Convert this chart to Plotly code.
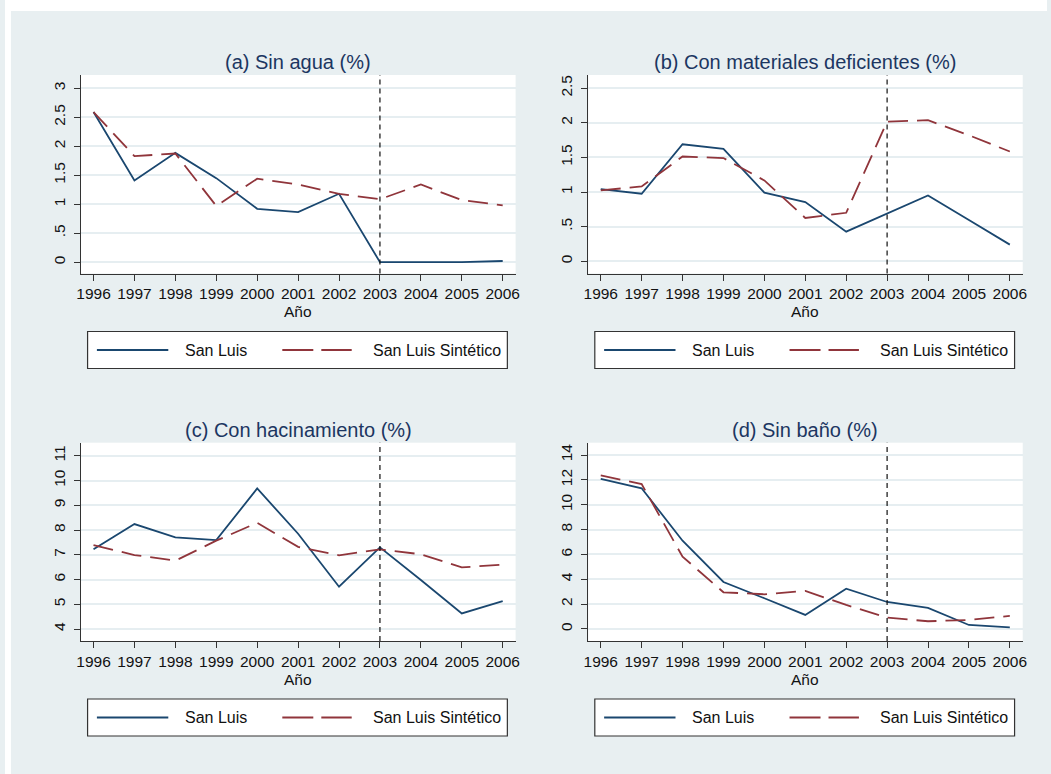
import plotly.graph_objects as go

years = list(range(1996, 2007))

titles = ["(a) Sin agua (%)", "(b) Con materiales deficientes (%)",
          "(c) Con hacinamiento (%)", "(d) Sin baño (%)"]

sanluis_agua = [2.59, 1.41, 1.886, 1.45, 0.92, 0.865, 1.18, 0.0, 0.0, 0.0, 0.02]
sintetico_agua = [2.59, 1.83, 1.875, 0.97, 1.44, 1.34, 1.18, 1.085, 1.34, 1.07, 0.98]

sanluis_mat = [1.043, 0.975, 1.69, 1.624, 0.99, 0.855, 0.428, 0.687, 0.95, 0.597, 0.24]
sintetico_mat = [1.023, 1.08, 1.513, 1.49, 1.167, 0.625, 0.70, 2.017, 2.037, 1.82, 1.585]

sanluis_hac = [7.22, 8.24, 7.70, 7.59, 9.68, 7.85, 5.71, 7.30, 5.98, 4.63, 5.13]
sintetico_hac = [7.39, 6.99, 6.76, 7.57, 8.29, 7.32, 6.98, 7.22, 7.02, 6.49, 6.60]

sanluis_bano = [12.07, 11.32, 7.10, 3.78, 2.47, 1.13, 3.24, 2.17, 1.69, 0.32, 0.13]
sintetico_bano = [12.36, 11.66, 5.82, 2.95, 2.79, 3.06, 1.93, 0.91, 0.62, 0.72, 1.05]

ytick_vals = [[0, 0.5, 1, 1.5, 2, 2.5, 3],
              [0, 0.5, 1, 1.5, 2, 2.5],
              [4, 5, 6, 7, 8, 9, 10, 11],
              [0, 2, 4, 6, 8, 10, 12, 14]]
ytick_text = [["0", ".5", "1", "1.5", "2", "2.5", "3"],
              ["0", ".5", "1", "1.5", "2", "2.5"],
              ["4", "5", "6", "7", "8", "9", "10", "11"],
              ["0", "2", "4", "6", "8", "10", "12", "14"]]
yranges = [[-0.196, 3.23], [-0.177, 2.69], [3.515, 11.53], [-0.97, 14.99]]

treat_year = 2003
legend_labels = ["San Luis", "San Luis Sintético"]
xlabel = "Año"

W, H = 1051, 774
BLUE = "#1a476f"
RED = "#90353b"
BG = "#e8eff1"
GRID = "#e6eef1"
TITLE_C = "#1c3661"
FONT = "Liberation Sans, Arial, sans-serif"

def px(x):
    return x / W

def py(y):
    return 1 - y / H

# panel pixel boxes: left, right, top, bottom
boxes = [(76.7, 515.0, 75.0, 273.5),
         (588.3, 1026.5, 75.0, 273.5),
         (76.7, 515.0, 442.7, 641.0),
         (588.3, 1026.5, 442.7, 641.0)]

series = [(sanluis_agua, sintetico_agua), (sanluis_mat, sintetico_mat),
          (sanluis_hac, sintetico_hac), (sanluis_bano, sintetico_bano)]

fig = go.Figure()
shapes = []
annotations = []

# white outer strips (top and left); rest of the page is the graph region colour
shapes.append(dict(type="rect", xref="paper", yref="paper",
                   x0=0, x1=1, y0=py(11), y1=1,
                   fillcolor="white", line=dict(width=0), layer="below"))
shapes.append(dict(type="rect", xref="paper", yref="paper",
                   x0=0, x1=px(6), y0=0, y1=1,
                   fillcolor="white", line=dict(width=0), layer="below"))

for i, (l, r, t, b) in enumerate(boxes):
    n = "" if i == 0 else str(i + 1)
    xa, ya = "x" + n, "y" + n
    sl, ss = series[i]
    fig.add_trace(go.Scatter(x=years, y=sl, xaxis=xa, yaxis=ya, mode="lines",
                             line=dict(color=BLUE, width=1.8), showlegend=False,
                             name=legend_labels[0]))
    fig.add_trace(go.Scatter(x=years, y=ss, xaxis=xa, yaxis=ya, mode="lines",
                             line=dict(color=RED, width=1.8, dash="20px,9px"),
                             showlegend=False, name=legend_labels[1]))
    axis_common = dict(showline=True, linecolor="#333333", linewidth=1,
                       ticks="outside", ticklen=6, tickcolor="#333333",
                       tickfont=dict(family=FONT, size=15.5, color="#111111"),
                       zeroline=False, fixedrange=True)
    fig.update_layout(**{
        "xaxis" + n: dict(domain=[px(l), px(r)], anchor=ya,
                          range=[1995.695, 2006.315], tickvals=years,
                          showgrid=False, **axis_common),
        "yaxis" + n: dict(domain=[py(b), py(t)], anchor=xa,
                          range=yranges[i], tickvals=ytick_vals[i],
                          ticktext=ytick_text[i], tickangle=-90,
                          ticklabelstandoff=3,
                          showgrid=True, gridcolor=GRID, gridwidth=2,
                          **axis_common),
    })
    # treatment line
    shapes.append(dict(type="line", xref=xa, yref=ya + " domain",
                       x0=treat_year, x1=treat_year, y0=0, y1=1,
                       line=dict(color="#111111", width=1.2, dash="5px,4px")))
    # plot title
    annotations.append(dict(text=titles[i], xref="paper", yref="paper",
                            x=px((l + r) / 2), y=py(t - 13), xanchor="center",
                            yanchor="middle", showarrow=False,
                            font=dict(family=FONT, size=20, color=TITLE_C)))
    # x axis title
    annotations.append(dict(text=xlabel, xref="paper", yref="paper",
                            x=px((l + r) / 2), y=py(b + 38), xanchor="center",
                            yanchor="middle", showarrow=False,
                            font=dict(family=FONT, size=15.5, color="#111111")))
    # legend box
    lx0 = l + 6.6
    lx1 = l + 430
    ly0 = b + 58
    ly1 = b + 95
    lyc = (ly0 + ly1) / 2
    shapes.append(dict(type="rect", xref="paper", yref="paper",
                       x0=px(lx0), x1=px(lx1), y0=py(ly1), y1=py(ly0),
                       fillcolor="white", line=dict(color="#333333", width=1.2)))
    shapes.append(dict(type="line", xref="paper", yref="paper",
                       x0=px(l + 16), x1=px(l + 88), y0=py(lyc), y1=py(lyc),
                       line=dict(color=BLUE, width=1.8)))
    shapes.append(dict(type="line", xref="paper", yref="paper",
                       x0=px(l + 203), x1=px(l + 273), y0=py(lyc), y1=py(lyc),
                       line=dict(color=RED, width=1.8, dash="31px,8px")))
    annotations.append(dict(text=legend_labels[0], xref="paper", yref="paper",
                            x=px(l + 103), y=py(lyc), xanchor="left",
                            yanchor="middle", showarrow=False,
                            font=dict(family=FONT, size=16, color="#111111")))
    annotations.append(dict(text=legend_labels[1], xref="paper", yref="paper",
                            x=px(l + 292), y=py(lyc), xanchor="left",
                            yanchor="middle", showarrow=False,
                            font=dict(family=FONT, size=16, color="#111111")))

fig.update_layout(width=W, height=H, margin=dict(l=0, r=0, t=0, b=0),
                  paper_bgcolor=BG, plot_bgcolor="white",
                  shapes=shapes, annotations=annotations, showlegend=False,
                  font=dict(family=FONT))

fig.write_html("out.html",
               config={"displayModeBar": False, "responsive": False},
               post_script="document.body.style.margin='0';"
                           "document.body.style.overflow='hidden';"
                           "document.body.style.background='" + BG + "';")
